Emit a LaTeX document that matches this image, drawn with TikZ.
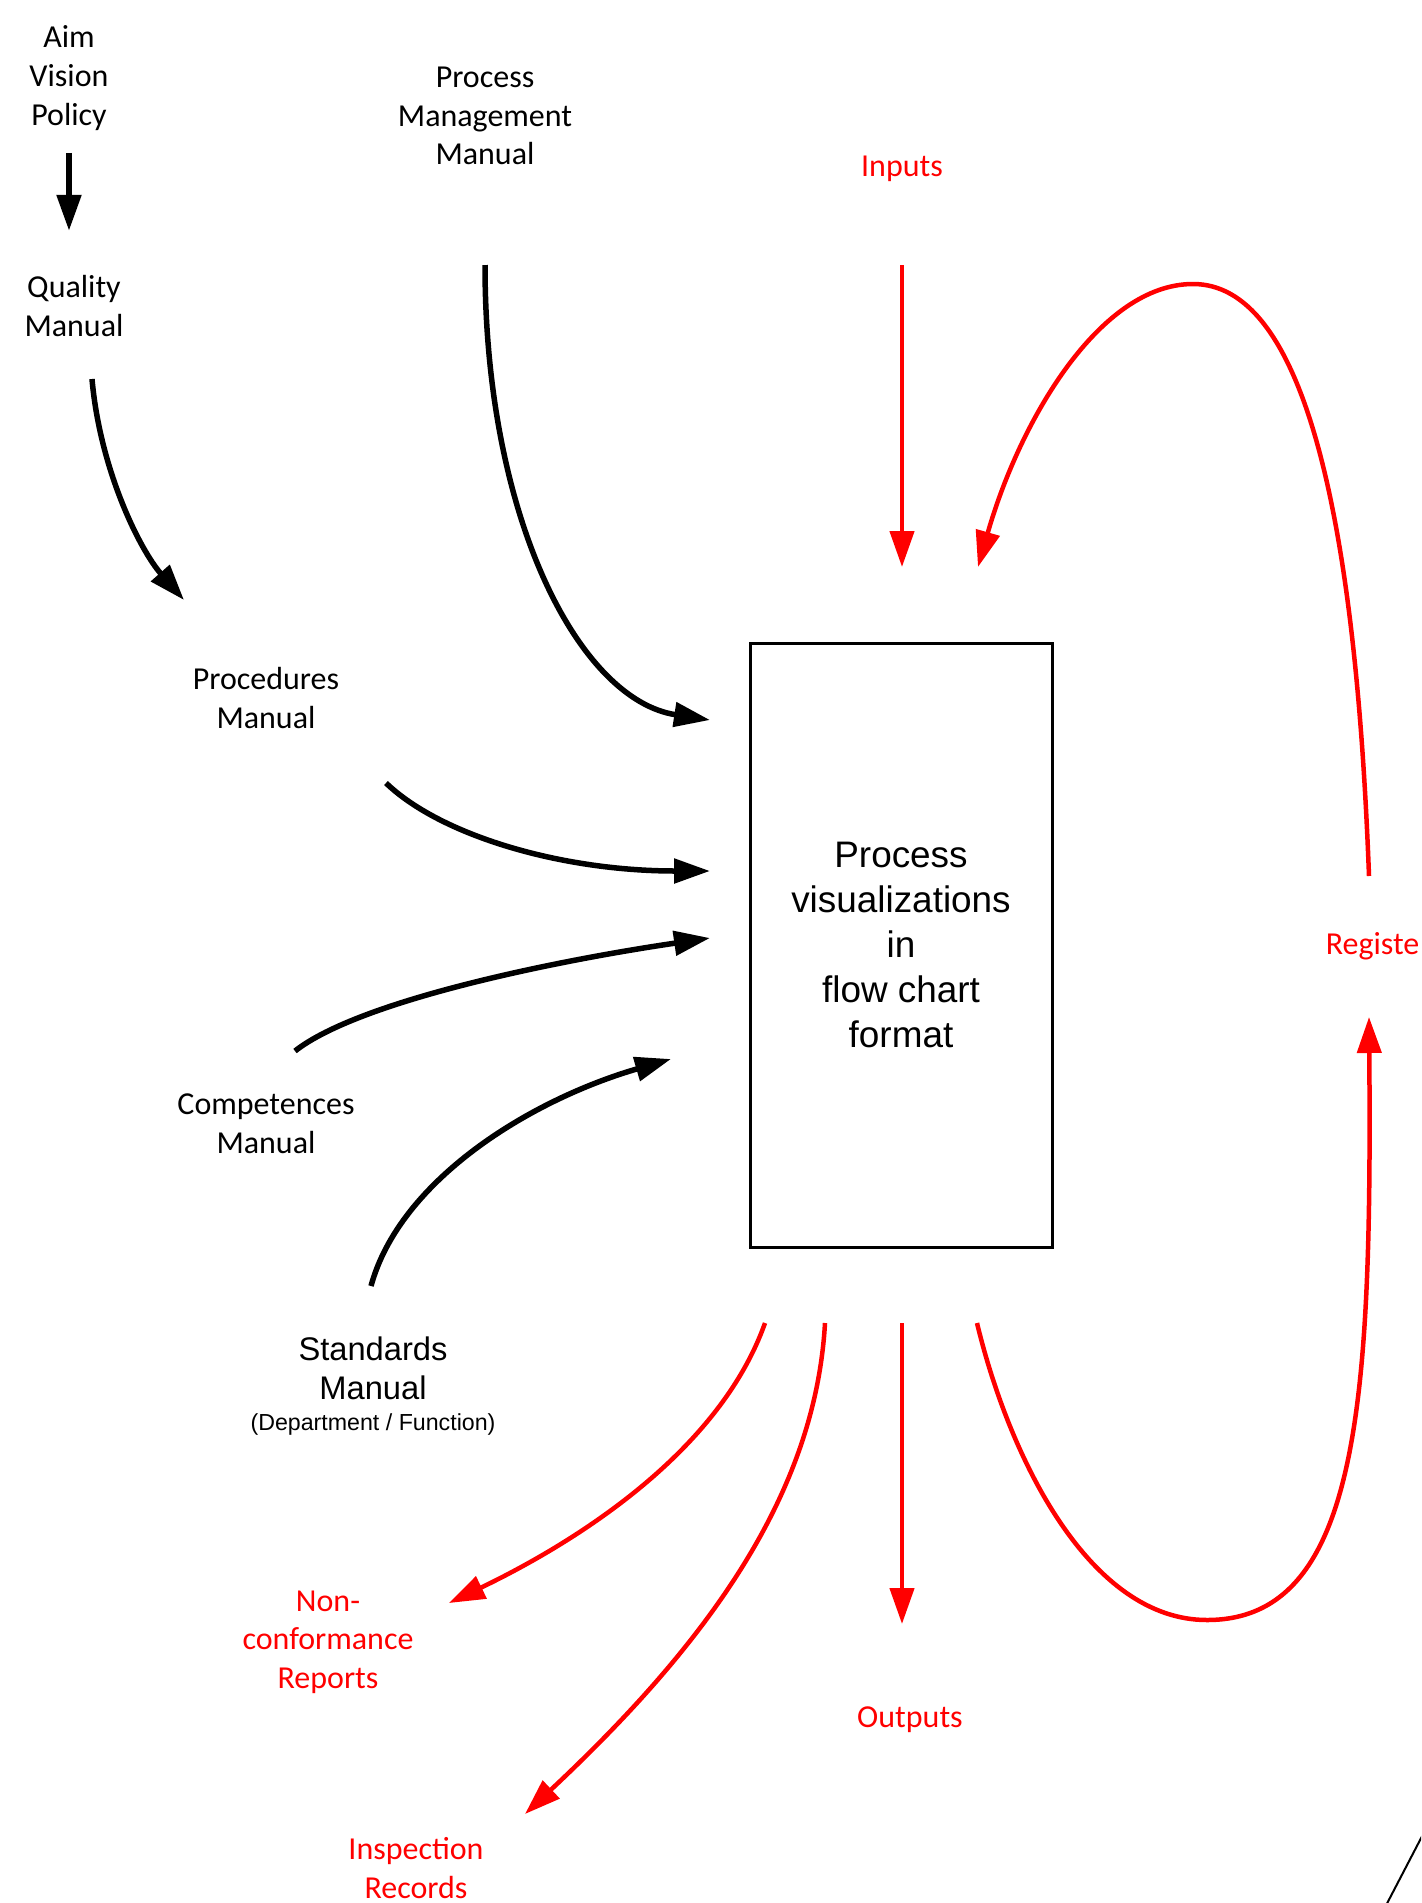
\documentclass[tikz,border=0pt]{standalone}
\usepackage{fontspec}
\setmainfont{Carlito}
\newfontfamily\arialfont{Liberation Sans}
\usepackage{tikz}
\usetikzlibrary{arrows.meta}
\usetikzlibrary{positioning}

\begin{document}
\begin{tikzpicture}[x=0.1mm, y=-0.1mm, node distance=1mm,
  every node/.style={align=center, inner sep=0pt, font=\fontsize{9.1}{11}\selectfont},
  redtext/.style={text=red},
  blk/.style={line width=0.55mm, -{Triangle[length=3.6mm, width=2.4mm]}},
  rd/.style={draw=red, line width=0.45mm, -{Triangle[length=3.6mm, width=2.4mm]}}]
  \useasboundingbox (0,0) rectangle (1421,1903);
  \clip (0,0) rectangle (1421,1903);

  % documents on the left
  \node (aim) at (69,78) {Aim\\Vision\\Policy};
  \node (quality) at (74,306) {Quality\\Manual};
  \node (pmm) at (485,116) {Process\\Management\\Manual};
  \node (procedures) at (266,698) {Procedures\\Manual};
  \node (competences) at (266,1124) {Competences\\Manual};
  \node (standards) at (373,1368) [font=\arialfont\fontsize{9.3}{11.2}\selectfont] {Standards\\Manual};
  \node (stdnote) [below=1.3mm of standards, font=\arialfont\fontsize{6.6}{8}\selectfont] {(Department / Function)};

  % the process box
  \node (box) at (901,945) [draw, line width=0.3mm, minimum width=30.2mm, minimum height=60.4mm,
    font=\arialfont\fontsize{10.5}{12.8}\selectfont]
    {Process\\visualizations\\in\\flow chart\\format};

  % red labels
  \node (inputs) [redtext] at (902,169) {Inputs};
  \node (outputs) [redtext] at (910,1720) {Outputs};
  \node (register) [redtext, anchor=east] at (1420,946) {Registe};
  \node (nonconf) [redtext] at (328,1642) {Non-\\conformance\\Reports};
  \node (inspection) [redtext] at (416,1868) {Inspection\\Records};

  % free ends of the connectors
  \coordinate (pmm-out) at (485,265);
  \coordinate (qm-out) at (92,379);
  \coordinate (pm-tip) at (184,600);
  \coordinate (proc-out) at (386,783);
  \coordinate (comp-out) at (295,1051);
  \coordinate (std-out) at (371,1286);
  \coordinate (in-a) at (710,720);
  \coordinate (in-b) at (710,871);
  \coordinate (in-c) at (710,938);
  \coordinate (in-d) at (671,1059);
  \coordinate (inputs-out) at (902,265);
  \coordinate (inputs-tip) at (902,567);
  \coordinate (loop-tip) at (978,567);
  \coordinate (reg-top) at (1369,876);
  \coordinate (reg-tip) at (1369,1017);
  \coordinate (out-a) at (765,1323);
  \coordinate (out-b) at (825,1323);
  \coordinate (out-c) at (902,1323);
  \coordinate (out-d) at (977,1323);
  \coordinate (outputs-tip) at (902,1624);
  \coordinate (nc-tip) at (449,1603);
  \coordinate (ir-tip) at (525,1814);

  % black arrows
  \draw[blk, shorten <=2.2mm, shorten >=4.4mm] (aim.south) -- (aim.south |- quality.north);
  \draw[blk] (qm-out) .. controls (100,470) and (140,550) .. (pm-tip);
  \draw[blk] (pmm-out) .. controls (485,520) and (580,700) .. (in-a);
  \draw[blk] (proc-out) .. controls (440,835) and (560,871) .. (in-b);
  \draw[blk] (comp-out) .. controls (360,1000) and (560,960) .. (in-c);
  \draw[blk] (std-out) .. controls (400,1180) and (530,1100) .. (in-d);

  % red arrows
  \draw[rd] (inputs-out) -- (inputs-tip);
  \draw[rd] (reg-top) .. controls (1355,500) and (1300,284) .. (1193,284)
    .. controls (1100,284) and (1020,420) .. (loop-tip);
  \draw[rd] (out-d) .. controls (1010,1460) and (1090,1620) .. (1207,1620)
    .. controls (1360,1620) and (1372,1400) .. (reg-tip);
  \draw[rd] (out-c) -- (outputs-tip);
  \draw[rd] (out-a) .. controls (720,1450) and (580,1540) .. (nc-tip);
  \draw[rd] (out-b) .. controls (815,1500) and (700,1650) .. (ir-tip);

  % edge of a shape cut off at the corner
  \draw[line width=0.2mm] (1431,1819) -- (1381,1915);
\end{tikzpicture}
\end{document}
